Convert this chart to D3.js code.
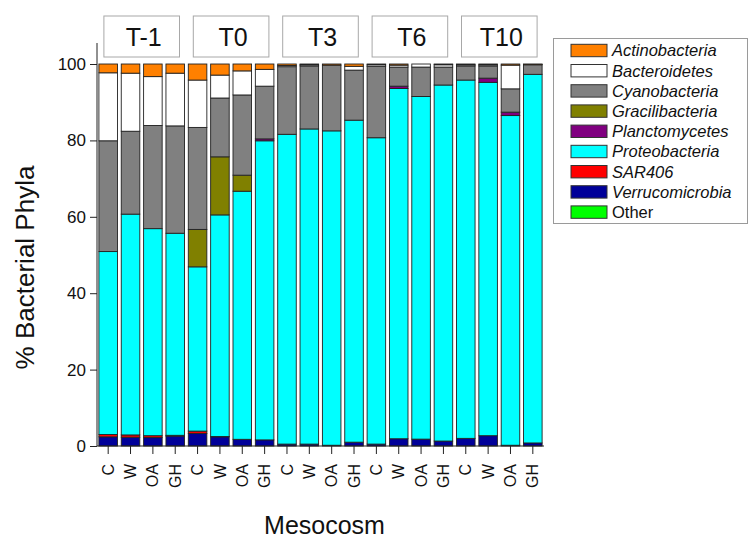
<!DOCTYPE html>
<html>
<head>
<meta charset="utf-8">
<script src="https://cdn.jsdelivr.net/npm/d3@7"></script>
<style>
  html, body { margin: 0; padding: 0; background: #fff; }
  svg { display: block; font-family: "Liberation Sans", Arial, sans-serif; }
</style>
</head>
<body>
<svg id="chart" width="752" height="538"></svg>
<script>
// Sampling times and treatments (four mesocosms per time point)
const timepoints = ["T-1", "T0", "T3", "T6", "T10"];
const treatments = ["C", "W", "OA", "GH"];

// Phyla, listed top of stack first (legend order)
const phyla = ["Actinobacteria", "Bacteroidetes", "Cyanobacteria", "Gracilibacteria",
               "Planctomycetes", "Proteobacteria", "SAR406", "Verrucomicrobia", "Other"];
const phylumColors = ["#ff8000", "#ffffff", "#808080", "#808000",
                      "#800080", "#00ffff", "#ff0000", "#000099", "#00ff00"];

// Relative abundance (%) per sample, in sample order T-1 C ... T10 GH
const actinobacteria  = [2.3, 2.4, 3.3, 2.4, 4.2, 2.9, 1.8, 1.4, 0.4, 0.2, 0.3, 0.6, 0.2, 0.3, 0.0, 0.2, 0.2, 0.2, 0.3, 0.1];
const bacteroidetes   = [17.8, 15.2, 12.8, 13.8, 12.4, 6.0, 6.3, 4.4, 0.3, 0.3, 0.0, 1.0, 0.4, 0.5, 0.8, 0.6, 0.3, 0.3, 6.2, 0.1];
const cyanobacteria   = [29.0, 21.7, 27.0, 28.1, 26.7, 15.4, 21.0, 13.8, 17.7, 16.5, 17.2, 13.1, 18.7, 5.0, 7.7, 4.7, 3.7, 3.2, 6.1, 2.5];
const gracilibacteria = [0, 0, 0, 0, 9.8, 15.2, 4.2, 0, 0, 0, 0, 0, 0, 0, 0, 0, 0, 0, 0, 0];
const planctomycetes  = [0, 0, 0, 0, 0, 0, 0, 0.5, 0, 0, 0, 0, 0, 0.6, 0, 0, 0, 1.1, 0.9, 0];
const proteobacteria  = [47.9, 57.8, 54.2, 52.9, 43.0, 58.0, 64.95, 78.3, 81.1, 82.5, 82.3, 84.3, 80.2, 91.7, 89.7, 93.2, 93.8, 92.5, 86.3, 96.5];
const sar406          = [0.6, 0.6, 0.5, 0.2, 0.6, 0.1, 0, 0, 0, 0, 0, 0, 0, 0, 0, 0, 0, 0, 0, 0];
const verrucomicrobia = [2.4, 2.3, 2.2, 2.6, 3.3, 2.4, 1.75, 1.6, 0.5, 0.5, 0.2, 1.0, 0.5, 1.9, 1.8, 1.3, 2.0, 2.7, 0.2, 0.8];
const other           = [0, 0, 0, 0, 0, 0, 0, 0, 0, 0, 0, 0, 0, 0, 0, 0, 0, 0, 0, 0];

const yTicks = [0, 20, 40, 60, 80, 100];

const seriesValues = [actinobacteria, bacteroidetes, cyanobacteria, gracilibacteria,
                      planctomycetes, proteobacteria, sar406, verrucomicrobia, other];

// One row per sample
const samples = [];
timepoints.forEach((t, ti) => treatments.forEach((tr, ri) => {
  const idx = ti * treatments.length + ri;
  const row = { id: idx, time: t, treatment: tr };
  phyla.forEach((p, pi) => { row[p] = seriesValues[pi][idx]; });
  samples.push(row);
}));

const svg = d3.select("#chart");
const plotLeft = 97, plotRight = 544, plotTop = 43, plotBottom = 446;

const x = d3.scaleBand()
  .domain(samples.map(d => d.id))
  .range([plotLeft, plotRight])
  .paddingInner(0.17)
  .paddingOuter(0.085);

const y = d3.scaleLinear().domain([0, 105.5]).range([plotBottom, plotTop]);

const color = d3.scaleOrdinal().domain(phyla).range(phylumColors);

// Stack from the bottom of the bar upward (reverse of legend order)
const stack = d3.stack().keys(phyla.slice().reverse());
const layers = stack(samples);

const bars = svg.append("g");
layers.forEach(layer => {
  bars.append("g")
    .attr("fill", color(layer.key))
    .selectAll("rect")
    .data(layer.filter(d => d[1] - d[0] > 0))
    .join("rect")
    .attr("x", d => x(d.data.id))
    .attr("width", x.bandwidth())
    .attr("y", d => y(d[1]))
    .attr("height", d => y(d[0]) - y(d[1]))
    .attr("stroke", "#222")
    .attr("stroke-width", 0.9);
});

// Y axis
const yAxis = svg.append("g")
  .attr("transform", `translate(${plotLeft},0)`)
  .call(d3.axisLeft(y).tickValues(yTicks).tickSize(7).tickPadding(4));
yAxis.select(".domain").attr("stroke", "#222").attr("d", `M0,${plotTop}V${plotBottom}`);
yAxis.selectAll(".tick line").attr("stroke", "#222");
yAxis.selectAll(".tick text")
  .attr("font-size", 17)
  .attr("font-family", "Liberation Sans, Arial, sans-serif")
  .attr("fill", "#111");

// X axis with treatment labels
const xAxis = svg.append("g")
  .attr("transform", `translate(0,${plotBottom})`)
  .call(d3.axisBottom(x).tickFormat(i => samples[i].treatment).tickSize(8).tickSizeOuter(0));
xAxis.select(".domain").attr("stroke", "#222").attr("d", `M${plotLeft},0H${plotRight}`);
xAxis.selectAll(".tick line").attr("stroke", "#222");
xAxis.selectAll(".tick text")
  .attr("font-size", 16)
  .attr("font-family", "Liberation Sans, Arial, sans-serif")
  .attr("fill", "#111")
  .attr("text-anchor", "end")
  .attr("transform", "rotate(-90)")
  .attr("x", -18)
  .attr("y", 0)
  .attr("dy", "0.35em");

// Time point header boxes above each group of bars
const header = svg.append("g");
timepoints.forEach((t, ti) => {
  const first = ti * treatments.length;
  const last = first + treatments.length - 1;
  const x0 = x(first) + 5;
  const x1 = x(last) + x.bandwidth() - 5;
  header.append("rect")
    .attr("x", x0).attr("y", 16)
    .attr("width", x1 - x0).attr("height", 41)
    .attr("fill", "#fff").attr("stroke", "#a8a8a8").attr("stroke-width", 1);
  header.append("text")
    .attr("x", (x0 + x1) / 2 + 2).attr("y", 46)
    .attr("text-anchor", "middle")
    .attr("font-size", 25).attr("fill", "#111")
    .text(t);
});

// Axis titles
svg.append("text")
  .attr("transform", `translate(34,${(plotTop + plotBottom) / 2 + 23}) rotate(-90)`)
  .attr("text-anchor", "middle")
  .attr("font-size", 26).attr("fill", "#111")
  .text("% Bacterial Phyla");

svg.append("text")
  .attr("x", (plotLeft + plotRight) / 2 + 4).attr("y", 534)
  .attr("text-anchor", "middle")
  .attr("font-size", 25).attr("fill", "#111")
  .text("Mesocosm");

// Legend
const legend = svg.append("g");
legend.append("rect")
  .attr("x", 553.5).attr("y", 38.5).attr("width", 194).attr("height", 185)
  .attr("fill", "#fff").attr("stroke", "#9a9a9a");
phyla.forEach((p, i) => {
  const ry = 44.3 + i * 20.2;
  legend.append("rect")
    .attr("x", 571).attr("y", ry).attr("width", 36).attr("height", 12.4)
    .attr("fill", color(p)).attr("stroke", "#333").attr("stroke-width", 1);
  legend.append("text")
    .attr("x", 612).attr("y", ry + 6.2).attr("dy", "0.36em")
    .attr("font-size", 16.5)
    .attr("font-style", p === "Other" ? "normal" : "italic")
    .attr("fill", "#111")
    .text(p);
});
</script>
</body>
</html>
